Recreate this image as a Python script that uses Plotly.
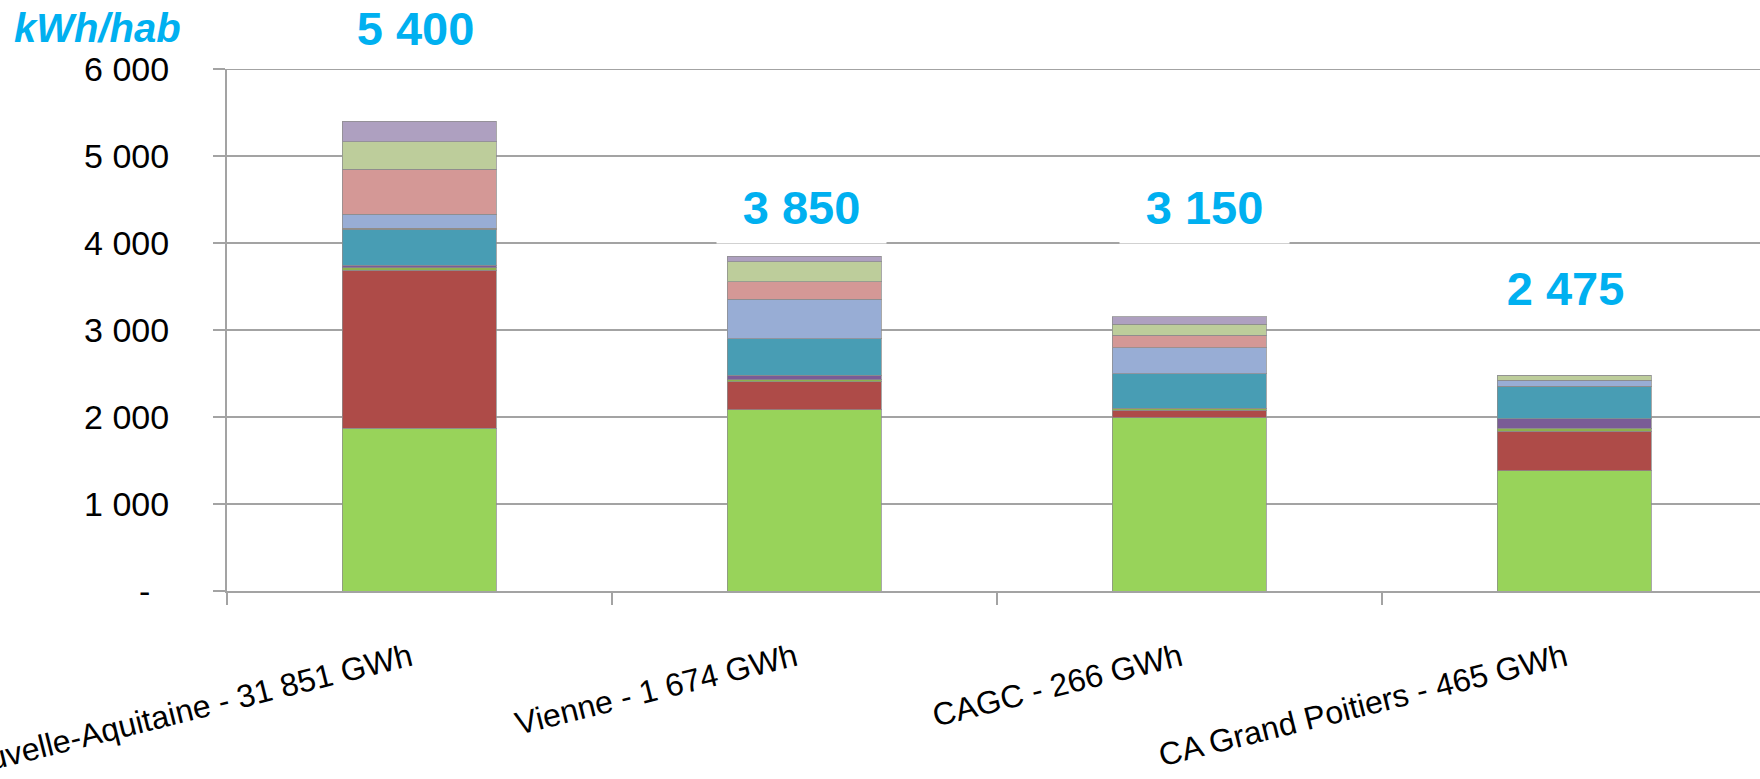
import plotly.graph_objects as go

# Territories (category axis) and per-capita totals shown above the bars
categories = [
    "Nouvelle-Aquitaine - 31 851 GWh",
    "Vienne - 1 674 GWh",
    "CAGC - 266 GWh",
    "CA Grand Poitiers - 465 GWh",
]
total_labels = ["5 400", "3 850", "3 150", "2 475"]

# Stacked components, kWh per inhabitant (bottom to top)
serie_1 = [1868, 2082, 1994, 1380]
serie_2 = [1820, 326, 84, 457]
serie_3 = [30, 20, 20, 31]
serie_4 = [28, 53, 0, 110]
serie_5 = [414, 417, 402, 373]
serie_6 = [12, 0, 0, 0]
serie_7 = [160, 457, 295, 72]
serie_8 = [518, 199, 146, 0]
serie_9 = [314, 230, 126, 52]
serie_10 = [236, 66, 83, 0]

y_tickvals = [0, 1000, 2000, 3000, 4000, 5000, 6000]
y_ticktext = ["-\u00a0\u00a0", "1 000", "2 000", "3 000", "4 000", "5 000", "6 000"]

series = [serie_1, serie_2, serie_3, serie_4, serie_5,
          serie_6, serie_7, serie_8, serie_9, serie_10]
colors = ["#98D35A", "#AE4B48", "#8DB04E", "#7A5C96", "#489DB4",
          "#E8873A", "#98ADD5", "#D49896", "#BDCD9B", "#AEA0C0"]

fig = go.Figure()
for i, (vals, col) in enumerate(zip(series, colors)):
    fig.add_trace(go.Bar(
        x=categories, y=vals, name=f"Série {i + 1}",
        marker=dict(color=col, line=dict(color="rgba(140,140,140,0.75)", width=1)),
        showlegend=False,
    ))

BLUE = "#00B0F0"
GRID = "#A3A3A3"
FONT = "Liberation Sans, Arial, sans-serif"

# placement of the total labels (paper units) and small horizontal nudges
label_y = [1.0785, 0.7347, 0.7347, 0.5805]
label_dx = [-4, -3, 15, -9]
label_box_h = [68, 68, 68, 60]

annotations = []
for cat, txt, yy, dx, bh in zip(categories, total_labels, label_y, label_dx, label_box_h):
    annotations.append(dict(
        x=cat, y=yy, xref="x", yref="paper", text=f"<b>{txt}</b>",
        showarrow=False, xanchor="center", yanchor="middle", xshift=dx,
        font=dict(family=FONT, size=47, color=BLUE),
        bgcolor="white", width=165, height=bh, borderpad=2,
    ))

# unit label in the top-left corner
annotations.append(dict(
    x=-0.1402, y=1.0785, xref="paper", yref="paper",
    text="<b><i>kWh/hab</i></b>", showarrow=False,
    xanchor="left", yanchor="middle",
    font=dict(family=FONT, size=40, color=BLUE),
))

fig.update_layout(
    width=1760, height=779,
    margin=dict(l=227, r=0, t=69, b=188, autoexpand=False),
    barmode="stack", bargap=0.6,
    plot_bgcolor="white", paper_bgcolor="white",
    font=dict(family=FONT, size=31, color="black"),
    annotations=annotations,
    shapes=[dict(type="line", xref="paper", x0=0, x1=1, yref="y", y0=6000, y1=6000,
                 line=dict(color=GRID, width=2), layer="below")],
    xaxis=dict(
        type="category", range=[-0.5, 3.482],
        tickson="boundaries", ticks="outside", ticklen=12, tickwidth=2, tickcolor=GRID,
        showline=True, linecolor=GRID, linewidth=2,
        showgrid=False, tickangle=-14, automargin=False,
        ticklabelstandoff=34, ticklabelshift=-9,
        tickfont=dict(size=32),
    ),
    yaxis=dict(
        range=[0, 6000], tickvals=y_tickvals, ticktext=y_ticktext,
        showgrid=True, gridcolor=GRID, gridwidth=2,
        ticks="outside", ticklen=12, tickwidth=2, tickcolor=GRID,
        showline=True, linecolor=GRID, linewidth=2,
        zeroline=False, automargin=False, ticklabelstandoff=37,
        tickfont=dict(size=34),
    ),
)

fig.write_html("out.html")
